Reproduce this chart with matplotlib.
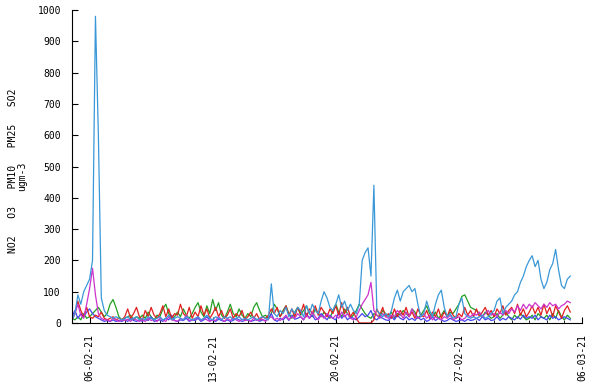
import matplotlib
matplotlib.use("Agg")
import matplotlib.pyplot as plt
import matplotlib.dates as mdates
import numpy as np
import pandas as pd

# 4-hourly readings starting 05-02-21 00:00, six values per day
no2 = [10, 30, 70, 40, 20, 50,
       20, 15, 25, 20, 35, 15,
       10, 15, 20, 10, 15, 10,
       20, 45, 15, 30, 50, 20,
       10, 40, 20, 50, 25, 15,
       30, 55, 20, 45, 15, 30,
       25, 60, 30, 20, 50, 15,
       35, 20, 55, 25, 45, 15,
       30, 50, 20, 40, 15, 25,
       45, 15, 30, 20, 40, 10,
       20, 35, 15, 30, 10, 20,
       15, 25, 45, 30, 50, 20,
       35, 55, 25, 45, 20, 50,
       30, 60, 20, 45, 30, 55,
       25, 50, 35, 20, 45, 30,
       55, 25, 65, 30, 50, 20,
       35, 15, 0, 0, 0, 0,
       0, 10, 45, 25, 50, 20,
       30, 15, 45, 20, 40, 25,
       50, 20, 35, 15, 45, 25,
       20, 40, 15, 35, 20, 45,
       15, 35, 20, 45, 25, 15,
       30, 20, 50, 25, 40, 20,
       45, 20, 35, 50, 25, 40,
       20, 45, 30, 55, 25, 40,
       50, 30, 60, 25, 45, 20,
       35, 55, 30, 50, 25, 60,
       30, 50, 20, 55, 35, 15,
       40, 55, 35]

o3 = [15, 10, 20, 10, 30, 15,
      20, 30, 40, 50, 35, 20,
      30, 60, 75, 50, 20, 10,
      15, 20, 25, 10, 20, 15,
      25, 15, 35, 20, 10, 25,
      20, 45, 60, 30, 15, 20,
      35, 20, 45, 25, 15, 30,
      50, 65, 35, 20, 55, 30,
      75, 40, 65, 25, 15, 35,
      60, 30, 20, 45, 25, 15,
      30, 20, 50, 65, 40, 20,
      25, 15, 30, 60, 45, 20,
      40, 55, 30, 15, 35, 50,
      25, 40, 55, 30, 20, 45,
      30, 20, 35, 25, 15, 40,
      60, 35, 20, 45, 30, 15,
      25, 40, 60, 45, 30, 20,
      15, 30, 25, 20, 40, 30,
      20, 35, 15, 30, 25, 40,
      30, 20, 45, 35, 15, 25,
      40, 55, 30, 20, 35, 15,
      25, 40, 20, 35, 30, 45,
      60, 85, 90, 70, 50, 45,
      40, 30, 20, 35, 25, 15,
      20, 30, 15, 25, 35, 20,
      10, 25, 15, 30, 20, 10,
      15, 25, 10, 30, 20, 15,
      25, 10, 30, 15, 40, 20,
      10, 25, 15]

pm10 = [10, 30, 90, 60, 100, 120,
        140, 200, 980, 600, 80, 40,
        25, 20, 15, 20, 15, 10,
        15, 20, 10, 15, 20, 10,
        15, 10, 20, 15, 10, 15,
        20, 10, 15, 25, 10, 15,
        20, 15, 10, 20, 15, 10,
        15, 20, 10, 15, 25, 15,
        10, 20, 15, 10, 20, 15,
        20, 10, 15, 20, 10, 15,
        10, 15, 20, 10, 15, 20,
        15, 10, 125, 30, 20, 40,
        30, 50, 20, 45, 30, 50,
        40, 20, 55, 30, 60, 40,
        30, 70, 100, 80, 50, 40,
        60, 90, 50, 70, 40, 60,
        40, 30, 60, 200, 225, 240,
        150, 440, 40, 30, 20, 30,
        20, 40, 80, 105, 70, 100,
        110, 120, 100, 110, 60, 20,
        30, 70, 40, 20, 60, 90,
        105, 50, 20, 30, 15, 20,
        60, 80, 30, 20, 15, 20,
        15, 20, 25, 15, 20, 30,
        40, 70, 80, 30, 50, 60,
        70, 90, 100, 130, 150, 180,
        200, 215, 180, 200, 140, 110,
        130, 170, 190, 235, 170, 120,
        110, 140, 150]

pm25 = [10, 30, 60, 25, 15, 60,
        110, 175, 90, 30, 15, 10,
        10, 5, 15, 10, 5, 10,
        8, 12, 5, 15, 10, 5,
        10, 5, 15, 8, 12, 5,
        15, 10, 5, 20, 10, 8,
        5, 15, 10, 25, 8, 10,
        12, 20, 8, 15, 10, 5,
        10, 8, 20, 12, 5, 15,
        8, 15, 10, 5, 12, 8,
        10, 5, 15, 8, 10, 12,
        5, 15, 20, 10, 15, 8,
        15, 25, 10, 20, 15, 30,
        20, 10, 25, 15, 35, 20,
        10, 25, 15, 30, 20, 15,
        25, 15, 35, 20, 30, 15,
        10, 20, 40, 60, 75, 90,
        130, 40, 25, 15, 30, 20,
        15, 25, 20, 40, 30, 15,
        35, 20, 45, 25, 15, 20,
        30, 15, 25, 10, 20, 15,
        10, 20, 15, 25, 10, 15,
        20, 10, 15, 25, 20, 30,
        25, 35, 20, 30, 40, 25,
        30, 20, 35, 25, 40, 30,
        45, 35, 55, 40, 60, 45,
        60, 50, 65, 55, 45, 60,
        50, 65, 55, 60, 45, 55,
        60, 70, 65]

so2 = [20, 40, 15, 30, 20, 35,
       45, 30, 20, 15, 10, 5,
       8, 5, 10, 5, 8, 5,
       10, 5, 15, 8, 5, 10,
       5, 12, 8, 20, 5, 8,
       10, 5, 15, 10, 25, 8,
       5, 10, 8, 15, 5, 10,
       8, 15, 5, 10, 20, 8,
       10, 5, 12, 8, 5, 10,
       5, 8, 15, 10, 5, 8,
       10, 5, 8, 12, 5, 10,
       8, 12, 30, 10, 5, 15,
       10, 20, 8, 25, 12, 15,
       20, 10, 30, 15, 25, 10,
       15, 30, 20, 10, 25, 15,
       10, 35, 15, 25, 10, 20,
       15, 10, 20, 30, 20, 25,
       40, 15, 10, 20, 15, 10,
       8, 20, 10, 25, 15, 10,
       20, 10, 15, 8, 20, 10,
       15, 5, 10, 20, 8, 15,
       10, 5, 8, 15, 10, 5,
       8, 10, 5, 12, 8, 10,
       15, 8, 20, 10, 15, 8,
       10, 20, 8, 15, 10, 20,
       15, 10, 20, 12, 25, 15,
       20, 15, 25, 10, 20, 15,
       10, 25, 15, 20, 10, 15,
       20, 15, 10]

times = pd.date_range("2021-02-05 00:00", periods=len(pm10), freq="4h")

plt.rcParams["font.family"] = "DejaVu Sans Mono"
plt.rcParams["font.size"] = 7

fig = plt.figure(figsize=(6, 3.87), dpi=100)
ax = fig.add_axes([0.12, 0.1654, 0.85, 0.8086])

ax.plot(times, o3, color="#22a022", lw=0.9)
ax.plot(times, so2, color="#4646f0", lw=0.9)
ax.plot(times, no2, color="#e02020", lw=0.9)
ax.plot(times, pm25, color="#cc33cc", lw=0.9)
ax.plot(times, pm10, color="#3a98d8", lw=0.9)

ax.set_xlim(pd.Timestamp("2021-02-05"), pd.Timestamp("2021-03-06"))
ax.set_ylim(0, 1000)
ax.set_yticks(np.arange(0, 1001, 100))

ax.xaxis.set_major_locator(mdates.DayLocator(bymonthday=[6, 13, 20, 27]))
ax.xaxis.set_major_formatter(mdates.DateFormatter("%d-%m-%y"))
ax.xaxis.set_minor_locator(mdates.DayLocator())
ax.tick_params(axis="x", which="major", direction="in", length=4, rotation=90, pad=8)
ax.tick_params(axis="x", which="minor", direction="in", length=2)
ax.tick_params(axis="y", direction="in", length=4, pad=8)

for s in ["top", "right"]:
    ax.spines[s].set_visible(False)

fig.text(13 / 600, 1 - 171 / 387, "NO2   O3   PM10   PM25   SO2", rotation=90,
         ha="center", va="center")
fig.text(22 / 600, 1 - 176 / 387, "ugm-3", rotation=90, ha="center", va="center")

fig.savefig("out.png", dpi=100)
